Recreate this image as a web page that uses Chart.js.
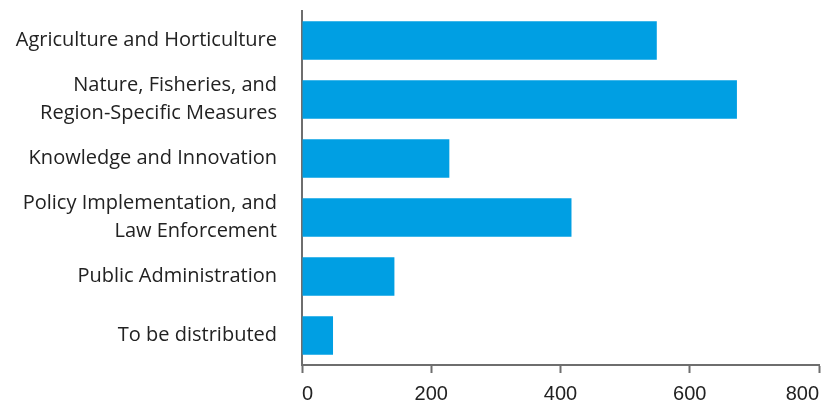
<!DOCTYPE html>
<html lang="en">
<head>
<meta charset="UTF-8">
<title>Budget by area</title>
<script src="https://cdn.jsdelivr.net/npm/chart.js"></script>
<style>
  html, body { margin: 0; padding: 0; background: #fff; }
  #wrap { width: 822px; height: 409px; }
</style>
</head>
<body>
<div id="wrap"><canvas id="grafico"></canvas></div>
<script>
  // dados
  const categorias = [
    'Agriculture and Horticulture',
    ['Nature, Fisheries, and', 'Region-Specific Measures'],
    'Knowledge and Innovation',
    ['Policy Implementation, and', 'Law Enforcement'],
    'Public Administration',
    'To be distributed'
  ];
  const valores = [549, 673, 228, 417, 143, 48];
  const ticksX = [0, 200, 400, 600, 800];

  const corBarra = '#009fe3';
  const corEixo = '#6e6e6e';

  const config = {
    type: 'bar',
    data: {
      labels: categorias,
      datasets: [{
        data: valores,
        backgroundColor: corBarra,
        borderWidth: 0,
        categoryPercentage: 1,
        barPercentage: 0.655
      }]
    },
    options: {
      indexAxis: 'y',
      responsive: false,
      animation: false,
      layout: { padding: { top: 11, right: 3, left: 0, bottom: 0 } },
      plugins: { legend: { display: false }, tooltip: { enabled: false } },
      scales: {
        x: {
          min: 0,
          max: 800,
          afterBuildTicks: (axis) => { axis.ticks = ticksX.map(v => ({ value: v })); },
          grid: { display: true, drawOnChartArea: false, drawTicks: true, tickLength: 8, tickColor: corEixo, tickWidth: 2 },
          border: { display: true, color: corEixo, width: 2 },
          ticks: {
            color: '#222',
            font: { family: 'Liberation Sans', size: 20 },
            padding: 9,
            maxRotation: 0,
            align: 'inner'
          },
          afterFit: (axis) => {
            axis.height = 44;
            axis.paddingLeft = 0;
            axis.paddingRight = 0;
          }
        },
        y: {
          grid: { display: false, drawTicks: false },
          border: { display: true, color: corEixo, width: 2 },
          ticks: {
            color: '#222',
            font: { family: 'Open Sans', size: 20, lineHeight: 1.4 },
            padding: 25,
            autoSkip: false
          },
          afterFit: (axis) => {
            axis.width = 302;
            axis.paddingTop = 0;
            axis.paddingBottom = 0;
          }
        }
      }
    }
  };

  const canvas = document.getElementById('grafico');
  canvas.width = 822;
  canvas.height = 409;
  new Chart(canvas, config);
</script>
</body>
</html>
